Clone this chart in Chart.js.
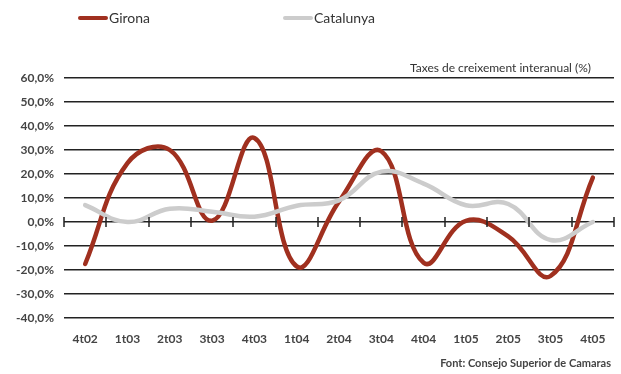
<!DOCTYPE html>
<html>
<head>
<meta charset="utf-8">
<script src="https://cdn.jsdelivr.net/npm/chart.js@4.4.1/dist/chart.umd.min.js"></script>
<style>
  body { margin: 0; background: #fff; font-family: Lato, "DejaVu Sans", sans-serif; }
  #wrap { position: relative; width: 621px; height: 374px; }
  canvas { position: absolute; left: 0; top: 0; }
  .lg { position: absolute; top: 9px; font-size: 14px; color: #333; display: flex; align-items: center; }
  .lg i { display: inline-block; width: 30px; height: 4px; border-radius: 2px; margin-right: 1px; }
  .note { position: absolute; color: #333; white-space: nowrap; }
</style>
</head>
<body>
<div id="wrap">
  <canvas id="chart" width="621" height="374"></canvas>
  <div class="lg" style="left:78px"><i style="background:#a0301f"></i>Girona</div>
  <div class="lg" style="left:283px"><i style="background:#cccccc"></i>Catalunya</div>
  <div class="note" style="left:410px;top:60px;font-size:12px">Taxes de creixement interanual (%)</div>
  <div class="note" style="right:10px;top:356px;font-size:11px;font-weight:bold;color:#444">Font: Consejo Superior de Camaras</div>
</div>
<script>
const quarters = ['4t02', '1t03', '2t03', '3t03', '4t03', '1t04', '2t04', '3t04', '4t04', '1t05', '2t05', '3t05', '4t05'];
const girona = [-17.5, 24.5, 30, 0.5, 35, -18.5, 8.5, 29.5, -17, 0.5, -6, -22.5, 18.5];
const catalunya = [7, 0, 5.5, 4.3, 2.2, 6.8, 9, 21, 16, 7, 7.5, -7.5, 0];
const yMin = -40, yMax = 60, yStep = 10;

// tick marks crossing the zero line at category boundaries
const zeroTicks = {
  id: 'zeroTicks',
  afterDraw(chart) {
    const { ctx, scales: { x, y } } = chart;
    const y0 = y.getPixelForValue(0);
    ctx.save();
    ctx.strokeStyle = '#222';
    ctx.lineWidth = 1.5;
    ctx.beginPath();
    for (let i = 0; i <= quarters.length; i++) {
      const px = Math.round(x.getPixelForValue(i - 0.5));
      ctx.moveTo(px, y0 - 5);
      ctx.lineTo(px, y0 + 5);
    }
    ctx.stroke();
    ctx.restore();
  }
};

new Chart(document.getElementById('chart'), {
  type: 'line',
  data: {
    labels: quarters,
    datasets: [
      { label: 'Catalunya', data: catalunya, borderColor: '#cccccc', borderWidth: 4.5, pointRadius: 0, tension: 0.42, borderCapStyle: 'round' },
      { label: 'Girona', data: girona, borderColor: '#a0301f', borderWidth: 4.5, pointRadius: 0, tension: 0.42, borderCapStyle: 'round' }
    ]
  },
  options: {
    responsive: false,
    animation: false,
    layout: { padding: { top: 78, right: 7, left: 0, bottom: 0 } },
    plugins: { legend: { display: false }, tooltip: { enabled: false } },
    scales: {
      x: {
        offset: true,
        grid: { display: false },
        border: { display: false },
        ticks: { color: '#444', font: { family: 'Lato', size: 12, weight: 'bold' }, padding: 6, maxRotation: 0 },
        afterFit(s) { s.height = 56; }
      },
      y: {
        min: yMin, max: yMax,
        ticks: { stepSize: yStep, color: '#444', font: { family: 'Lato', size: 12, weight: 'bold' }, padding: 10,
          callback: v => v.toFixed(1).replace('.', ',') + '%' },
        grid: { color: '#222', lineWidth: 1.5, drawTicks: false },
        border: { display: false },
        afterFit(s) { s.width = 64; }
      }
    }
  },
  plugins: [zeroTicks]
});
</script>
</body>
</html>
